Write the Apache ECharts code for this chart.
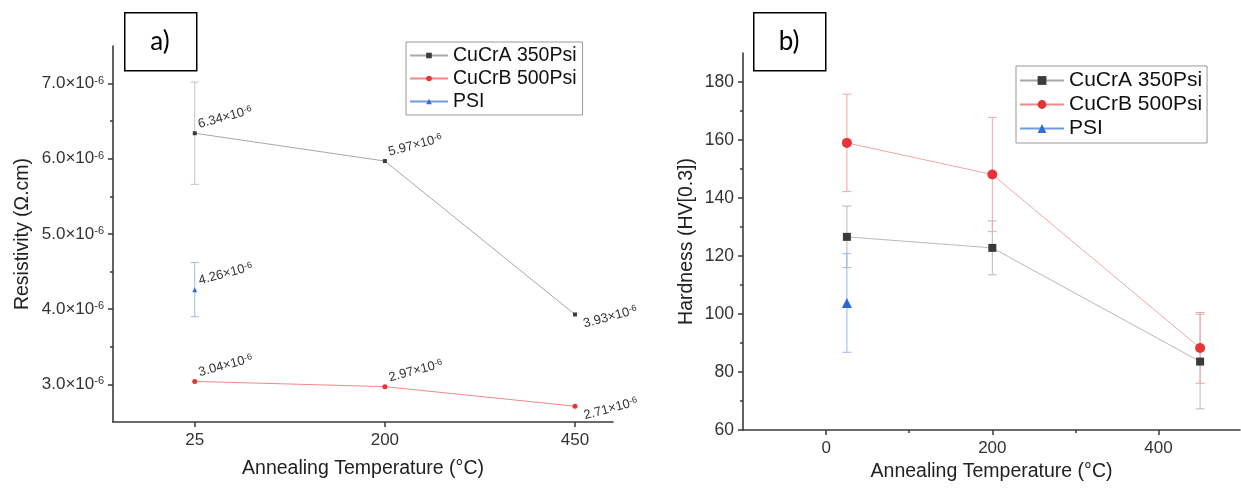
<!DOCTYPE html>
<html><head><meta charset="utf-8">
<script src="https://cdn.jsdelivr.net/npm/echarts@6/dist/echarts.min.js"></script>
<style>html,body{margin:0;padding:0;background:#fff}#c{width:1241px;height:494px}</style>
</head><body><div id="c"></div>
<script>
// ===== Panel a) Resistivity (values in units of 1e-6 Ω.cm) =====
const tempCatsA = ['25', '200', '450'];
const resA = [6.34, 5.97, 3.93];
const resA_err = [0.68, 0, 0];
const resB = [3.04, 2.97, 2.71];
const resB_err = [0, 0, 0];
const resPSI_idx = [0];
const resPSI = [4.26];
const resPSI_err = [0.36];
const resTicksMajor = [3, 4, 5, 6, 7];
const resTicksMinor = [3.5, 4.5, 5.5, 6.5];
const tempTicksA = [0, 1, 2];

// ===== Panel b) Hardness =====
const hardTemps = [25, 200, 450];
const hardA = [126.6, 122.8, 83.6];
const hardA_err = [10.6, 9.3, 16.3];
const hardB = [159.0, 148.1, 88.3];
const hardB_err = [16.8, 19.7, 12.2];
const hardPSI_temps = [25];
const hardPSI = [103.8];
const hardPSI_err = [17.0];
const hardTicksMajor = [60, 80, 100, 120, 140, 160, 180];
const hardTicksMinor = [70, 90, 110, 130, 150, 170];
const tempTicksBMajor = [0, 200, 400];
const tempTicksBMinor = [100, 300];

const names = ['CuCrA 350Psi', 'CuCrB 500Psi', 'PSI'];

const FONT = '"Liberation Sans", Arial, Helvetica, sans-serif';
const AX = '#3a3a3a';

function errSeries(xs, ys, errs, color, capW, xi, yi) {
  const data = [];
  ys.forEach((v, i) => { if (errs[i] > 0) data.push([xs[i], v - errs[i], v + errs[i]]); });
  return {
    type: 'custom', xAxisIndex: xi, yAxisIndex: yi, silent: true, z: 1,
    data: data, encode: { x: 0, y: [1, 2] },
    renderItem: function (params, api) {
      const x = api.value(0), lo = api.value(1), hi = api.value(2);
      const p1 = api.coord([x, lo]), p2 = api.coord([x, hi]);
      const h = capW / 2;
      const style = { stroke: color, lineWidth: 1 };
      return { type: 'group', children: [
        { type: 'line', shape: { x1: p1[0], y1: p1[1], x2: p2[0], y2: p2[1] }, style: style },
        { type: 'line', shape: { x1: p1[0] - h, y1: p1[1], x2: p1[0] + h, y2: p1[1] }, style: style },
        { type: 'line', shape: { x1: p2[0] - h, y1: p2[1], x2: p2[0] + h, y2: p2[1] }, style: style }
      ] };
    }
  };
}

const labelRich = {
  m: { fontSize: 13, color: '#333', fontFamily: FONT },
  s: { fontSize: 9, color: '#333', fontFamily: FONT, verticalAlign: 'top', padding: [0, 0, 4, 0] }
};

function labeledData(xs, ys) {
  return ys.map((v, i) => ({
    value: [xs[i], v],
    label: { offset: (xs[i] === 2) ? [0, 10] : [0, -9] }
  }));
}

function pointLabel() {
  return {
    show: true, position: 'right', distance: 4, rotate: 15,
    formatter: p => '{m|' + p.value[1].toFixed(2) + '×10}{s|-6}',
    rich: labelRich
  };
}

const axisLineStyle = { color: AX, width: 1.6 };
const tickStyle = { color: AX, width: 1.5 };

const option = {
  animation: false,
  backgroundColor: '#fff',
  grid: [
    { left: 113, top: 46, width: 500, height: 376 },
    { left: 743, top: 53, width: 497, height: 377 }
  ],
  xAxis: [
    { gridIndex: 0, type: 'value', min: -0.43, max: 2.2, position: 'bottom',
      axisLine: { onZero: false, lineStyle: axisLineStyle },
      axisTick: { customValues: tempTicksA, length: 5, lineStyle: tickStyle },
      axisLabel: { customValues: tempTicksA, formatter: v => tempCatsA[Math.round(v)], fontSize: 17, color: '#333', margin: 10, fontFamily: FONT },
      splitLine: { show: false },
      name: 'Annealing Temperature (°C)', nameLocation: 'middle', nameGap: 37,
      nameTextStyle: { fontSize: 19.5, color: '#222', fontFamily: FONT } },
    { gridIndex: 1, type: 'value', min: -100, max: 498, position: 'bottom',
      axisLine: { onZero: false, lineStyle: axisLineStyle },
      axisTick: { customValues: tempTicksBMajor, length: 5, lineStyle: tickStyle },
      axisLabel: { customValues: tempTicksBMajor, fontSize: 17, color: '#333', margin: 10, fontFamily: FONT },
      splitLine: { show: false },
      name: 'Annealing Temperature (°C)', nameLocation: 'middle', nameGap: 30,
      nameTextStyle: { fontSize: 19.5, color: '#222', fontFamily: FONT } },
    { gridIndex: 1, type: 'value', min: -100, max: 498, position: 'bottom',
      axisLine: { show: false, onZero: false },
      axisTick: { customValues: tempTicksBMinor, length: 3, lineStyle: tickStyle },
      axisLabel: { show: false }, splitLine: { show: false } }
  ],
  yAxis: [
    { gridIndex: 0, type: 'value', min: 2.5, max: 7.5, position: 'left',
      axisLine: { show: true, onZero: false, lineStyle: axisLineStyle },
      axisTick: { show: true, customValues: resTicksMajor, length: 5, lineStyle: tickStyle },
      axisLabel: { customValues: resTicksMajor, formatter: v => '{m|' + v.toFixed(1) + '×10}{s|-6}', margin: 9,
        rich: { m: { fontSize: 17, color: '#333', fontFamily: FONT }, s: { fontSize: 11, color: '#333', fontFamily: FONT, verticalAlign: 'top', padding: [0, 0, 6, 0] } } },
      splitLine: { show: false },
      name: 'Resistivity (Ω.cm)', nameLocation: 'middle', nameGap: 80,
      nameTextStyle: { fontSize: 19.5, color: '#222', fontFamily: FONT } },
    { gridIndex: 0, type: 'value', min: 2.5, max: 7.5, position: 'left',
      axisLine: { show: false, onZero: false },
      axisTick: { show: true, customValues: resTicksMinor, length: 3, lineStyle: tickStyle },
      axisLabel: { show: false }, splitLine: { show: false } },
    { gridIndex: 1, type: 'value', min: 60, max: 190, position: 'left',
      axisLine: { show: true, onZero: false, lineStyle: axisLineStyle },
      axisTick: { show: true, customValues: hardTicksMajor, length: 5, lineStyle: tickStyle },
      axisLabel: { customValues: hardTicksMajor, fontSize: 17.5, color: '#333', margin: 9, fontFamily: FONT },
      splitLine: { show: false },
      name: 'Hardness (HV[0.3])', nameLocation: 'middle', nameGap: 46,
      nameTextStyle: { fontSize: 19.5, color: '#222', fontFamily: FONT } },
    { gridIndex: 1, type: 'value', min: 60, max: 190, position: 'left',
      axisLine: { show: false, onZero: false },
      axisTick: { show: true, customValues: hardTicksMinor, length: 3, lineStyle: tickStyle },
      axisLabel: { show: false }, splitLine: { show: false } }
  ],
  legend: [
    { data: names, orient: 'vertical', left: 406, top: 42, itemWidth: 38, itemHeight: 7, itemGap: 2,
      borderColor: '#999', borderWidth: 1, padding: [3, 6, 3, 3], backgroundColor: '#fff',
      textStyle: { fontSize: 19.5, lineHeight: 21, color: '#111', fontFamily: FONT } },
    { data: names, orient: 'vertical', left: 1016, top: 66, itemWidth: 44, itemHeight: 11, itemGap: 1,
      borderColor: '#999', borderWidth: 1, padding: [3, 5, 3, 3], backgroundColor: '#fff',
      textStyle: { fontSize: 21, lineHeight: 23, color: '#111', fontFamily: FONT } }
  ],
  graphic: [
    { type: 'rect', left: 124, top: 12, shape: { width: 72, height: 58 }, style: { fill: '#fff', stroke: '#000', lineWidth: 1.5 } },
    { type: 'text', x: 160, y: 42, style: { text: 'a)', font: '26px Lato, "Open Sans", sans-serif', fill: '#000', textAlign: 'center', textVerticalAlign: 'middle' } },
    { type: 'rect', left: 753, top: 12, shape: { width: 72, height: 58 }, style: { fill: '#fff', stroke: '#000', lineWidth: 1.5 } },
    { type: 'text', x: 789, y: 42, style: { text: 'b)', font: '26px Lato, "Open Sans", sans-serif', fill: '#000', textAlign: 'center', textVerticalAlign: 'middle' } }
  ],
  series: [
    // panel a error bars
    errSeries([0, 1, 2], resA, resA_err, '#c4c4c4', 8, 0, 0),
    errSeries([0, 1, 2], resB, resB_err, '#f4b0b0', 8, 0, 0),
    errSeries(resPSI_idx, resPSI, resPSI_err, '#9dbbe6', 8, 0, 0),
    // panel a lines
    { name: names[0], type: 'line', xAxisIndex: 0, yAxisIndex: 0, z: 3,
      data: labeledData([0, 1, 2], resA), symbol: 'rect', symbolSize: 4,
      itemStyle: { color: '#3c3c3c' }, lineStyle: { color: '#a8a8a8', width: 1 }, label: pointLabel() },
    { name: names[1], type: 'line', xAxisIndex: 0, yAxisIndex: 0, z: 3,
      data: labeledData([0, 1, 2], resB), symbol: 'circle', symbolSize: 5,
      itemStyle: { color: '#e03636' }, lineStyle: { color: '#f08a8a', width: 1 }, label: pointLabel() },
    { name: names[2], type: 'line', xAxisIndex: 0, yAxisIndex: 0, z: 3,
      data: labeledData(resPSI_idx, resPSI), symbol: 'triangle', symbolSize: 5,
      itemStyle: { color: '#2f6fd0' }, lineStyle: { color: '#6f9be0', width: 1 }, label: pointLabel() },
    // panel b error bars
    errSeries(hardTemps, hardA, hardA_err, '#b8b8b8', 9, 1, 2),
    errSeries(hardTemps, hardB, hardB_err, '#f4a6a6', 9, 1, 2),
    errSeries(hardPSI_temps, hardPSI, hardPSI_err, '#9bb8e6', 9, 1, 2),
    // panel b lines
    { name: names[0], type: 'line', xAxisIndex: 1, yAxisIndex: 2, z: 3,
      data: hardTemps.map((t, i) => [t, hardA[i]]), symbol: 'rect', symbolSize: 8,
      itemStyle: { color: '#3a3a3a' }, lineStyle: { color: '#b8b8b8', width: 1 } },
    { name: names[1], type: 'line', xAxisIndex: 1, yAxisIndex: 2, z: 3,
      data: hardTemps.map((t, i) => [t, hardB[i]]), symbol: 'circle', symbolSize: 10,
      itemStyle: { color: '#e8333a' }, lineStyle: { color: '#f0a8a8', width: 1 } },
    { name: names[2], type: 'line', xAxisIndex: 1, yAxisIndex: 2, z: 3,
      data: hardPSI_temps.map((t, i) => [t, hardPSI[i]]), symbol: 'triangle', symbolSize: 10,
      itemStyle: { color: '#2868d8' }, lineStyle: { color: '#8fb0e6', width: 1 } }
  ]
};

const chart = echarts.init(document.getElementById('c'), null, { renderer: 'canvas' });
chart.setOption(option);
</script>
</body></html>
